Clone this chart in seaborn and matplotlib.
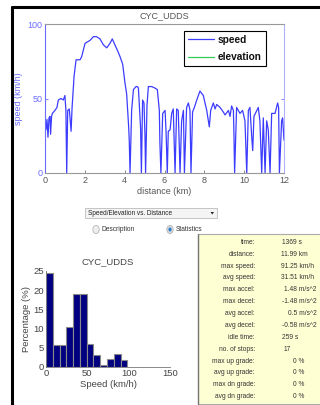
import matplotlib
matplotlib.use("Agg")
import matplotlib.pyplot as plt
import seaborn as sns
from matplotlib.lines import Line2D
from matplotlib.patches import Rectangle, Circle, Polygon

# ---------------- data ----------------
cycle_name = "CYC_UDDS"
distance_km = [0.00, 0.05, 0.10, 0.15, 0.20, 0.25, 0.28, 0.33, 0.37, 0.50, 0.60, 0.67, 0.80, 0.92,
               1.00, 1.05, 1.09, 1.14, 1.22, 1.31, 1.36, 1.46, 1.56, 1.66, 1.76, 1.84, 2.01, 2.26,
               2.43, 2.59, 2.76, 2.93, 3.10, 3.26, 3.38, 3.51, 3.68, 3.77, 3.90, 4.02, 4.10, 4.20,
               4.23, 4.27, 4.35, 4.44, 4.57, 4.64, 4.69, 4.74, 4.80, 4.84, 4.90, 4.97, 5.02, 5.05,
               5.12, 5.19, 5.36, 5.52, 5.64, 5.74, 5.77, 5.82, 5.91, 6.03, 6.08, 6.14, 6.19, 6.28,
               6.36, 6.44, 6.49, 6.53, 6.61, 6.69, 6.76, 6.78, 6.86, 6.95, 7.00, 7.11, 7.20, 7.28,
               7.33, 7.41, 7.50, 7.62, 7.78, 7.95, 8.12, 8.25, 8.32, 8.45, 8.54, 8.62, 8.79, 8.95,
               9.04, 9.21, 9.29, 9.37, 9.46, 9.49, 9.52, 9.62, 9.79, 9.92, 10.04, 10.13, 10.21,
               10.29, 10.38, 10.43, 10.49, 10.71, 10.79, 10.88, 10.96, 11.05, 11.13, 11.21, 11.30,
               11.38, 11.55, 11.68, 11.73, 11.77, 11.88, 11.93, 12.00]
speed_kmh = [36, 29, 36, 24, 37, 38, 26, 38, 40, 42, 44, 49, 50, 49,
             52, 42, 0, 42, 43, 28, 44, 65, 76, 76, 76, 78, 87, 89,
             91.5, 91.5, 90, 86, 84, 87, 90, 86, 81, 78, 73, 60, 53, 31,
             22, 0, 42, 56, 58, 58, 57, 45, 30, 0, 49, 47, 25, 0,
             45, 58, 58, 57, 56, 42, 20, 0, 40, 42, 27, 0, 28, 29,
             40, 43, 20, 0, 43, 42, 8, 0, 35, 42, 0, 44, 47, 42,
             0, 41, 44, 49, 55, 52, 42, 31, 42, 47, 43, 46, 44, 41,
             39, 42, 38, 45, 42, 24, 0, 44, 40, 42, 35, 0, 42,
             44, 24, 15, 38, 44, 35, 0, 37, 0, 35, 29, 0,
             40, 40, 47, 44, 0, 35, 37, 22]

hist_edges = [0, 8.2, 16.4, 24.6, 32.8, 41.0, 49.2, 57.4, 65.6, 73.8, 82.0, 90.2, 98.4]
hist_pct = [24.5, 5.8, 5.7, 10.3, 18.9, 18.9, 5.9, 3.0, 0.6, 2.1, 3.5, 1.7]

legend_labels = ["speed", "elevation"]
dropdown_text = "Speed/Elevation vs. Distance"
radio_labels = ["Description", "Statistics"]

stat_labels = ["time:", "distance:", "max speed:", "avg speed:", "max accel:", "max decel:",
               "avg accel:", "avg decel:", "idle time:", "no. of stops:", "max up grade:",
               "avg up grade:", "max dn grade:", "avg dn grade:"]
stat_values = ["1369 s", "11.99 km", "91.25 km/h", "31.51 km/h", "1.48 m/s^2", "-1.48 m/s^2",
               "0.5 m/s^2", "-0.58 m/s^2", "259 s", "17", "0 %", "0 %", "0 %", "0 %"]
# text anchor x (px) and alignment of each value
stat_value_x = [281.5, 281, 281, 281, 316.5, 316.5, 316.5, 316.5, 282.5, 284, 293, 293, 293, 293]
stat_value_ha = ["left", "left", "left", "left", "right", "right", "right", "right",
                 "left", "left", "left", "left", "left", "left"]

# ---------------- style ----------------
sns.set_theme(style="white")
plt.rcParams['font.family'] = ['Liberation Sans', 'DejaVu Sans']

W, H = 320, 405
fig = plt.figure(figsize=(W / 100, H / 100), dpi=100)
fig.patch.set_facecolor("white")


def fx(px):
    return px / W


def fy(py):
    return 1 - py / H


BLUE = "#3c3cff"
LBLUE = "#6b6bff"

# frame lines of the window
fig.add_artist(Line2D([fx(12), fx(320)], [fy(7), fy(7)], color="black", lw=2.2,
                      transform=fig.transFigure))
fig.add_artist(Line2D([fx(12), fx(12)], [fy(7), fy(405)], color="black", lw=2.2,
                      transform=fig.transFigure))

# ---------------- top speed chart ----------------
ax1 = fig.add_axes([fx(45), fy(173), fx(284) - fx(45), (173 - 24) / H])
sns.lineplot(x=distance_km, y=speed_kmh, ax=ax1, color=BLUE, lw=0.9,
             estimator=None, sort=False)
ax1.set_xlim(0, 12)
ax1.set_ylim(0, 100)
ax1.set_xticks(range(0, 13, 2))
ax1.set_yticks([0, 50, 100])
for s in ["top", "bottom"]:
    ax1.spines[s].set_color("#999999")
    ax1.spines[s].set_linewidth(0.8)
ax1.spines["left"].set_color(LBLUE)
ax1.spines["right"].set_color("#b0b0ff")
ax1.spines["left"].set_linewidth(0.8)
ax1.spines["right"].set_linewidth(0.8)
ax1.tick_params(axis="x", direction="in", length=2.5, width=0.6, labelsize=6.5,
                colors="#777777", labelcolor="#555555", pad=2, top=False, bottom=True)
ax1.tick_params(axis="y", direction="in", length=2.5, width=0.6, labelsize=6.5,
                colors=LBLUE, labelcolor=LBLUE, pad=2, left=True, right=True)
ax1.set_title(cycle_name, fontsize=6.5, color="#555555", pad=4)
ax1.set_xlabel("distance (km)", fontsize=6.5, color="#555555", labelpad=1.5)
ax1.set_ylabel("speed (km/h)", fontsize=6.5, color=LBLUE, labelpad=3)

handles = [Line2D([], [], color=BLUE, lw=0.9), Line2D([], [], color="#33cc55", lw=0.9)]
leg = ax1.legend(handles=handles, labels=legend_labels, loc="upper left",
                 bbox_to_anchor=(0.58, 0.955), fontsize=7.3, frameon=True, fancybox=False,
                 edgecolor="black", framealpha=1, handlelength=2.6, handletextpad=0.4,
                 labelspacing=0.75, borderpad=0.4, borderaxespad=0)
leg.get_frame().set_linewidth(0.8)
for t in leg.get_texts():
    t.set_fontweight("bold")
    t.set_color("#111111")

# ---------------- dropdown & radio buttons ----------------
fig.add_artist(Rectangle((fx(85), fy(218)), fx(217) - fx(85), (218 - 208) / H,
                         transform=fig.transFigure, facecolor="#f4f4f4",
                         edgecolor="#bbbbbb", lw=0.6))
fig.text(fx(87.5), fy(213.2), dropdown_text, fontsize=4.7, color="#222222",
         ha="left", va="center")
fig.add_artist(Polygon([[fx(210.5), fy(212)], [fx(214), fy(212)], [fx(212.25), fy(214.5)]],
                       closed=True, transform=fig.transFigure, facecolor="#222222",
                       edgecolor="none"))
fig.add_artist(Circle((fx(96), fy(229.5)), 3.2 / W, transform=fig.transFigure,
                      facecolor="#eeeeee", edgecolor="#aaaaaa", lw=0.5))
fig.add_artist(Circle((fx(170), fy(229.5)), 3.2 / W, transform=fig.transFigure,
                      facecolor="#dddddd", edgecolor="#aaaaaa", lw=0.5))
fig.add_artist(Circle((fx(170), fy(229.5)), 1.6 / W, transform=fig.transFigure,
                      facecolor="#2a7fd0", edgecolor="none"))
fig.text(fx(101.5), fy(229.5), radio_labels[0], fontsize=4.8, color="#333333",
         ha="left", va="center")
fig.text(fx(176), fy(229.5), radio_labels[1], fontsize=4.8, color="#333333",
         ha="left", va="center")

# ---------------- statistics box ----------------
fig.add_artist(Rectangle((fx(198), fy(404)), fx(330) - fx(198), (404 - 234) / H,
                         transform=fig.transFigure, facecolor="#ffffd4",
                         edgecolor="#aaaaaa", lw=0.8))
fig.add_artist(Line2D([fx(198), fx(198)], [fy(234), fy(404)], color="#777777", lw=1.0,
                      transform=fig.transFigure))
for i, (lab, val, vx, vha) in enumerate(zip(stat_labels, stat_values, stat_value_x,
                                             stat_value_ha)):
    yy = 242.3 + i * 11.88
    fig.text(fx(255), fy(yy), lab, fontsize=4.8, color="#333333", ha="right", va="center")
    fig.text(fx(vx), fy(yy), val, fontsize=4.8, color="#333333", ha=vha, va="center")

# ---------------- histogram ----------------
ax2 = fig.add_axes([fx(46), fy(367), fx(170) - fx(46), (367 - 271) / H])
centers = [(a + b) / 2 for a, b in zip(hist_edges[:-1], hist_edges[1:])]
sns.histplot(x=centers, weights=hist_pct, bins=hist_edges, ax=ax2, color="#000080",
             edgecolor="#8a8a8a", linewidth=0.8, alpha=1)
ax2.set_xlim(0, 150)
ax2.set_ylim(0, 25)
ax2.set_xticks([0, 50, 100, 150])
ax2.set_yticks([0, 5, 10, 15, 20, 25])
ax2.spines["top"].set_visible(False)
ax2.spines["right"].set_visible(False)
ax2.spines["left"].set_color("#777777")
ax2.spines["bottom"].set_color("#777777")
ax2.spines["left"].set_linewidth(0.6)
ax2.spines["bottom"].set_linewidth(0.6)
ax2.tick_params(direction="in", length=2, width=0.5, labelsize=6.8, colors="#777777",
                labelcolor="#444444", pad=1.5)
ax2.set_title(cycle_name, fontsize=6.8, color="#444444", pad=5)
ax2.set_xlabel("Speed (km/h)", fontsize=6.8, color="#444444", labelpad=1.5)
ax2.set_ylabel("Percentage (%)", fontsize=6.8, color="#444444", labelpad=2)

fig.savefig("out.png", dpi=100)
